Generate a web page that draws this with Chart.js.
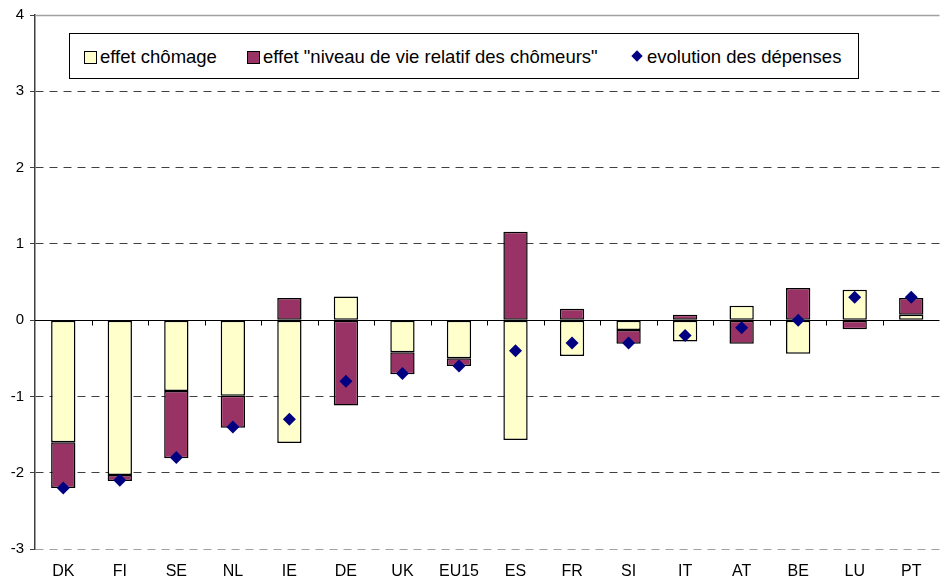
<!DOCTYPE html>
<html>
<head>
<meta charset="utf-8">
<script src="https://cdn.jsdelivr.net/npm/chart.js@4.4.1/dist/chart.umd.min.js"></script>
<style>
  body { margin: 0; background: #fff; }
  .wrap { position: relative; width: 946px; height: 578px; }
  .legend {
    position: absolute; left: 69px; top: 33px; width: 790px; height: 46px;
    border: 1px solid #000; background: #fff; box-sizing: border-box;
    font-family: "Liberation Sans", Arial, sans-serif; font-size: 18.5px; color: #000;
  }
  .legend span { position: absolute; top: 12px; white-space: nowrap; }
  .sw { position: absolute; top: 17px; width: 11px; height: 11px; border: 1px solid #000; }
  .dia { position: absolute; top: 18px; width: 8px; height: 8px; background: #000080; transform: rotate(45deg); }
</style>
</head>
<body>
<div class="wrap">
  <canvas id="chart" width="946" height="578"></canvas>
  <div class="legend">
    <div class="sw" style="left:14px;background:#ffffcc"></div>
    <span style="left:30px">effet chômage</span>
    <div class="sw" style="left:177px;background:#993366"></div>
    <span style="left:193px">effet "niveau de vie relatif des chômeurs"</span>
    <div class="dia" style="left:563px"></div>
    <span style="left:577px">evolution des dépenses</span>
  </div>
</div>
<script>
const countries = ['DK', 'FI', 'SE', 'NL', 'IE', 'DE', 'UK', 'EU15', 'ES', 'FR', 'SI', 'IT', 'AT', 'BE', 'LU', 'PT'];
const effetChomage = [-1.6, -2.03, -0.93, -0.99, -1.61, 0.31, -0.42, -0.5, -1.57, -0.47, -0.13, -0.28, 0.19, -0.44, 0.4, 0.07];
const effetNiveau = [-0.6, -0.08, -0.88, -0.42, 0.29, -1.12, -0.29, -0.1, 1.16, 0.15, -0.18, 0.07, -0.31, 0.42, -0.12, 0.22];
const evolution = [-2.2, -2.1, -1.8, -1.4, -1.3, -0.8, -0.7, -0.6, -0.4, -0.3, -0.3, -0.2, -0.1, 0.0, 0.3, 0.3];

// zero axis line with its tick marks, and the solid top line
const axisLines = {
  id: 'axisLines',
  beforeDatasetsDraw(chart) {
    const { ctx, chartArea, scales: { x, y } } = chart;
    const y0 = Math.round(y.getPixelForValue(0)) + 0.5;
    ctx.save();
    ctx.strokeStyle = '#a0a0a0';
    ctx.lineWidth = 1.5;
    ctx.beginPath();
    ctx.moveTo(chartArea.left, chartArea.top + 0.5);
    ctx.lineTo(chartArea.right, chartArea.top + 0.5);
    ctx.stroke();
    ctx.strokeStyle = '#000';
    ctx.lineWidth = 1;
    ctx.beginPath();
    ctx.moveTo(chartArea.left, y0);
    ctx.lineTo(chartArea.right, y0);
    for (let i = 0; i < countries.length - 1; i++) {
      const xb = Math.round((x.getPixelForValue(i) + x.getPixelForValue(i + 1)) / 2) + 0.5;
      ctx.moveTo(xb, y0);
      ctx.lineTo(xb, y0 + 5);
    }
    ctx.stroke();
    ctx.restore();
  }
};

new Chart(document.getElementById('chart'), {
  type: 'bar',
  data: {
    labels: countries,
    datasets: [{
      label: 'effet chômage',
      data: effetChomage,
      backgroundColor: '#ffffcc',
      borderColor: '#000',
      borderWidth: 1.5,
      borderSkipped: false,
      barPercentage: 0.43,
      categoryPercentage: 1,
      order: 2
    }, {
      label: 'effet "niveau de vie relatif des chômeurs"',
      data: effetNiveau,
      backgroundColor: '#993366',
      borderColor: '#000',
      borderWidth: 1.5,
      borderSkipped: false,
      barPercentage: 0.43,
      categoryPercentage: 1,
      order: 2
    }, {
      type: 'line',
      label: 'evolution des dépenses',
      data: evolution,
      stack: 'pts',
      showLine: false,
      pointStyle: 'rectRot',
      pointRadius: 6.5,
      pointBackgroundColor: '#000080',
      pointBorderColor: '#000080',
      pointBorderWidth: 0,
      order: 1
    }]
  },
  options: {
    responsive: false,
    animation: false,
    layout: { padding: { top: 15, right: 0, left: 0, bottom: 0 } },
    plugins: { legend: { display: false }, tooltip: { enabled: false } },
    scales: {
      x: {
        stacked: true,
        grid: { display: false },
        border: { display: false },
        ticks: { color: '#000', padding: 5, font: { family: 'Liberation Sans', size: 16 } },
        afterFit(scale) { scale.height = 29; }
      },
      y: {
        stacked: true,
        min: -3,
        max: 4,
        ticks: { stepSize: 1, color: '#000', padding: 6, font: { family: 'Liberation Sans', size: 15 } },
        grid: {
          color: ctx => {
            const v = ctx.tick ? ctx.tick.value : null;
            if (v === 0 || v === 4) return 'rgba(0,0,0,0)';
            if (v === -3) return '#a0a0a0';
            return '#404040';
          },
          tickColor: '#404040',
          tickLength: 5,
          lineWidth: 1
        },
        border: { color: '#404040', width: 1.5, dash: [8, 6] },
        afterFit(scale) { scale.width = 35; }
      }
    }
  },
  plugins: [axisLines]
});
</script>
</body>
</html>
